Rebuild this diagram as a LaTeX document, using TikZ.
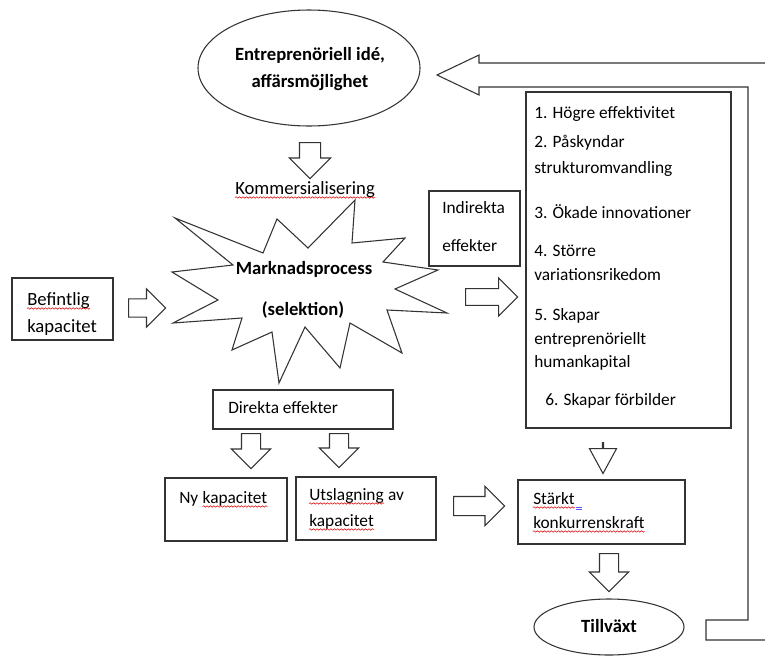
\documentclass[tikz,border=0pt]{standalone}
\usepackage{fontspec}
\setmainfont{Carlito}
\usetikzlibrary{shapes.geometric,shapes.arrows,decorations.pathmorphing}

\tikzset{
  lines/.style={draw=black!80, line width=0.8pt},
  box/.style={lines, rectangle, inner sep=0pt},
  oval/.style={lines, ellipse, inner sep=0pt},
  txt/.style={anchor=base west, inner sep=0pt, font=\fontsize{13}{15}\selectfont},
  bigtxt/.style={txt, font=\fontsize{14}{16}\selectfont},
  boldtxt/.style={anchor=base, inner sep=0pt, font=\fontsize{14}{16}\selectfont\bfseries},
  blockarrow/.style={lines, single arrow, anchor=tail, inner xsep=0pt,
      inner ysep=6.75pt, minimum width=28.5pt, single arrow head extend=7.5pt},
  downarrow/.style={blockarrow, shape border rotate=270, inner xsep=6.75pt, inner ysep=0pt},
  spellline/.style={draw=red!85!black, line width=0.4pt,
      decorate, decoration={snake, amplitude=0.55pt, segment length=2.6pt}},
}

\begin{document}
\begin{tikzpicture}[x=0.75pt, y=-0.75pt]
    \useasboundingbox (0,0) rectangle (765,658);

    % starburst
    \draw[lines, line join=miter] (175,218) -- (263,253) -- (277,219) -- (308,248)
        -- (355,200) -- (352,243) -- (405,238) -- (383,262) -- (438,270)
        -- (395,289) -- (447,313) -- (387,310) -- (402,353) -- (350,323)
        -- (340,368) -- (305,327) -- (279,383) -- (272,332) -- (232,350)
        -- (242,318) -- (173,323) -- (218,300) -- (172,272) -- (233,265) -- cycle;
    \node[boldtxt] (market) at (304,274) {Marknadsprocess};
    \node[boldtxt] (selection) at (303,315) {(selektion)};

    % boxes and ovals
    \node[oval, minimum width=166.5pt, minimum height=87pt] (idea) at (309,68) {};
    \node[boldtxt] (idea1) at (310,60) {Entreprenöriell idé,};
    \node[boldtxt] (idea2) at (310,87) {affärsmöjlighet};
    \node[box, fill=white, minimum width=68.25pt, minimum height=56.25pt] (indirect) at (474.5,228.5) {};
    \node[box, minimum width=153.75pt, minimum height=252pt] (effects) at (628.5,260) {};
    \node[box, minimum width=75.75pt, minimum height=46.5pt] (existing) at (62.5,309) {};
    \node[box, minimum width=135pt, minimum height=29.25pt] (direct) at (303,409.5) {};
    \node[box, minimum width=91.5pt, minimum height=47.25pt] (newcap) at (226,509.5) {};
    \node[box, minimum width=105pt, minimum height=47.25pt] (knockout) at (366,508.5) {};
    \node[box, minimum width=125.25pt, minimum height=48pt] (compet) at (601.5,512) {};
    \node[oval, minimum width=112.5pt, minimum height=42pt] (growth) at (609,627) {};

    % texts
    \node[bigtxt] (commerce) at (235,194) {Kommersialisering};
    \node[bigtxt] (existing1) at (27,305) {Befintlig};
    \node[bigtxt] (existing2) at (27,332) {kapacitet};
    \node[txt] (indirect1) at (442,213) {Indirekta};
    \node[txt] (indirect2) at (442,251) {effekter};
    \node[txt] (direct1) at (228,413) {Direkta effekter};
    \node[txt] (newcap1) at (179,503) {Ny};
    \node[txt] (newcap2) at ([xshift=2.9pt]newcap1.base east) {kapacitet};
    \node[txt] (knockout1) at (309,500) {Utslagning};
    \node[txt] (knockout2) at ([xshift=2.9pt]knockout1.base east) {av};
    \node[txt] (knockout3) at (309,526) {kapacitet};
    \node[txt] (compet1) at (533,504) {Stärkt};
    \node[txt] (compet2) at (533,528) {konkurrenskraft};
    \node[boldtxt] (growth1) at (609,632) {Tillväxt};
    \foreach \xb/\yb/\txt [count=\i] in {534/118/1. Högre effektivitet,
            534/147/2. Påskyndar, 534/173/strukturomvandling,
            534/218/3. Ökade innovationer, 534/256/4. Större,
            534/280/variationsrikedom, 534/320/5. Skapar,
            534/344/entreprenöriellt, 534/367/humankapital,
            545/405/6. Skapar förbilder}
        \node[txt] (item\i) at (\xb,\yb) {\txt};

    % spelling marks
    \foreach \n in {commerce, existing1, newcap2, knockout1, knockout3, compet1, compet2}
        \draw[spellline] ([yshift=-2.6pt]\n.base west) -- ([yshift=-2.6pt]\n.base east);
    \draw[blue!65, line width=0.5pt] ([xshift=0.8pt,yshift=-2.4pt]compet1.base east) -- +(4.5pt,0)
        ([xshift=0.8pt,yshift=-3.8pt]compet1.base east) -- +(4.5pt,0);

    % block arrows
    \node[downarrow, minimum height=27pt, inner xsep=7.5pt] (a1) at (310,142) {};
    \node[blockarrow, minimum height=27.75pt, inner ysep=6.4pt] (a2) at (128,308) {};
    \node[blockarrow, minimum height=39pt, inner ysep=5.6pt] (a3) at (465,297) {};
    \node[downarrow, minimum height=26.25pt] (a4) at (251,433) {};
    \node[downarrow, minimum height=25.5pt] (a5) at (339,433) {};
    \node[blockarrow, minimum height=38.25pt] (a6) at (453,506) {};
    \node[downarrow, minimum height=23.25pt, inner xsep=0pt,
          minimum width=19.5pt, single arrow head extend=9.75pt,
          single arrow tip angle=57] (a7) at (603,442) {};
    \node[downarrow, minimum height=28.5pt] (a8) at (609,553) {};

    % feedback arrow
    \draw[lines, line join=miter] (765,640) -- (706,640) -- (706,620) -- (748,620)
        -- (748,87) -- (479,87) -- (479,95) -- (437,75) -- (479,55) -- (479,63) -- (765,63);
\end{tikzpicture}
\end{document}
